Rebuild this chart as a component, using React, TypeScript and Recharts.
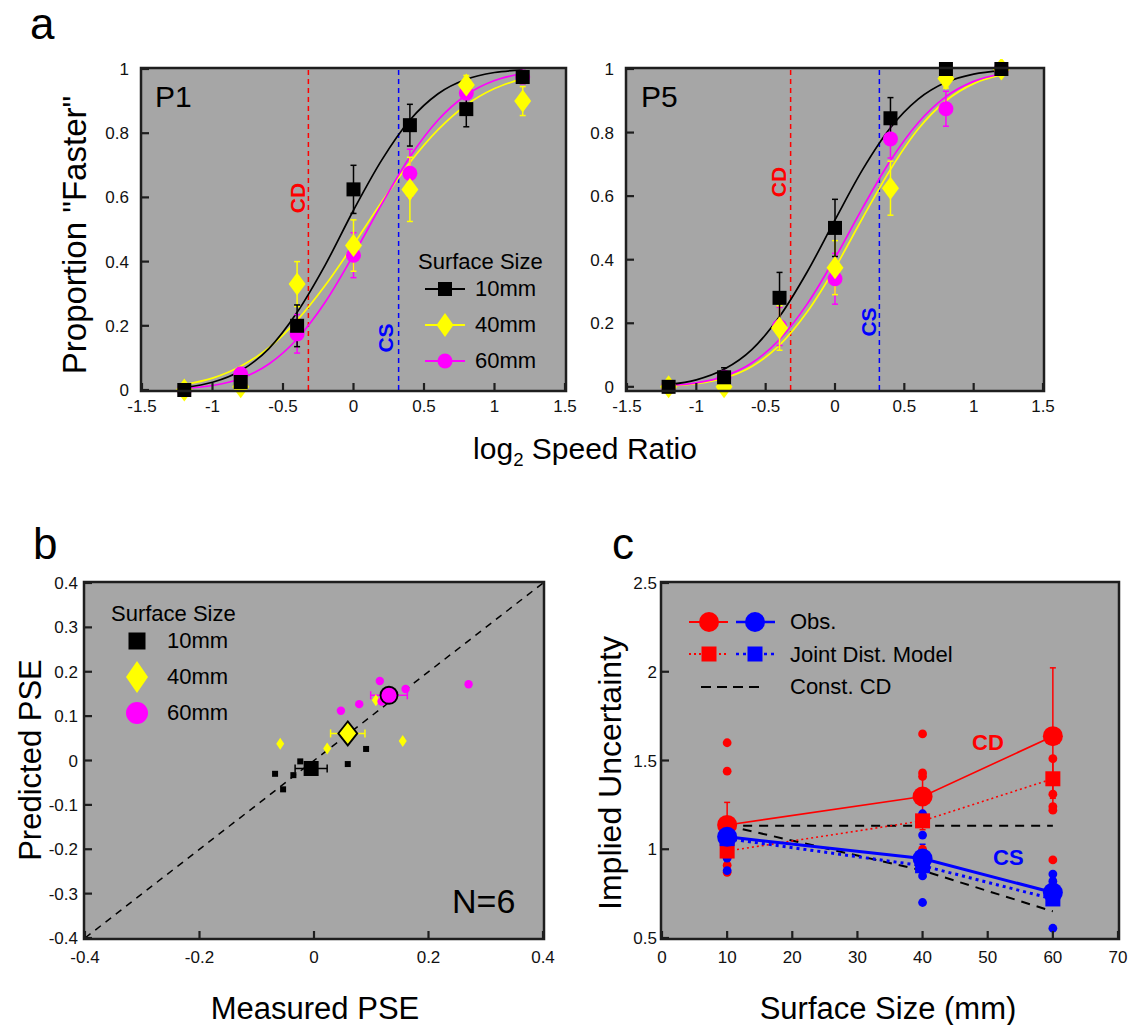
import React from 'react'
import {
  ComposedChart,
  XAxis,
  YAxis,
  Line,
  Scatter,
  ErrorBar,
  ReferenceLine,
} from 'recharts'

const FONT = '"Liberation Sans", Arial, Helvetica, sans-serif'
const BG = '#a6a6a6'
const INK = '#1e1e1e'
const RED = '#ff0000'
const BLUE = '#0000ff'
const YEL = '#ffff00'
const MAG = '#ff00ff'

// ---- panel a: psychometric functions ----
const speedRatios = [-1.2, -0.8, -0.4, 0, 0.4, 0.8, 1.2]
const fitX = [-1.2, -1.0, -0.8, -0.6, -0.4, -0.2, 0, 0.2, 0.4, 0.6, 0.8, 1.0, 1.2]
const cdShift = -0.32
const csShift = 0.32

const p1Obs10 = [0, 0.025, 0.2, 0.625, 0.825, 0.875, 0.975]
const p1Obs40 = [0, 0.01, 0.33, 0.45, 0.625, 0.95, 0.9]
const p1Obs60 = [0, 0.05, 0.175, 0.42, 0.675, 0.925, 0.975]
const p1Err10 = [0, 0.02, 0.065, 0.075, 0.065, 0.055, 0.02]
const p1Err40 = [0, 0.01, 0.07, 0.08, 0.1, 0.03, 0.045]
const p1Err60 = [0, 0.02, 0.06, 0.07, 0.075, 0.035, 0.02]
const p1Fit10 = [0.008, 0.024, 0.06, 0.129, 0.242, 0.39, 0.56, 0.716, 0.841, 0.923, 0.968, 0.989, 0.997]
const p1Fit40 = [0.017, 0.037, 0.074, 0.132, 0.217, 0.326, 0.453, 0.586, 0.709, 0.811, 0.888, 0.939, 0.97]
const p1Fit60 = [0.005, 0.014, 0.036, 0.081, 0.159, 0.274, 0.421, 0.579, 0.726, 0.841, 0.919, 0.964, 0.986]

const p5Obs10 = [0, 0.03, 0.28, 0.5, 0.845, 1, 1]
const p5Obs40 = [0, 0, 0.185, 0.375, 0.625, 0.97, 1]
const p5Obs60 = [0, 0.03, 0.19, 0.34, 0.78, 0.875, 1]
const p5Err10 = [0, 0.03, 0.08, 0.09, 0.065, 0, 0]
const p5Err40 = [0, 0.01, 0.07, 0.085, 0.085, 0.03, 0]
const p5Err60 = [0, 0.02, 0.06, 0.08, 0.06, 0.055, 0]
const p5Fit10 = [0.007, 0.022, 0.055, 0.117, 0.221, 0.362, 0.525, 0.684, 0.815, 0.905, 0.958, 0.984, 0.995]
const p5Fit40 = [0.003, 0.01, 0.027, 0.064, 0.131, 0.236, 0.374, 0.532, 0.684, 0.811, 0.9, 0.954, 0.981]
const p5Fit60 = [0.004, 0.0125, 0.033, 0.075, 0.149, 0.261, 0.405, 0.564, 0.712, 0.831, 0.913, 0.961, 0.985]

// ---- panel b: measured vs predicted PSE ----
const pseMeas10 = [-0.068, -0.054, -0.036, -0.024, 0.059, 0.091]
const psePred10 = [-0.03, -0.065, -0.033, -0.002, -0.008, 0.026]
const pseMeas40 = [-0.059, 0.023, 0.066, 0.055, 0.108, 0.155]
const psePred40 = [0.038, 0.027, 0.057, 0.065, 0.136, 0.044]
const pseMeas60 = [0.047, 0.079, 0.115, 0.118, 0.16, 0.27]
const psePred60 = [0.112, 0.127, 0.179, 0.133, 0.161, 0.172]
const pseMeanMeas = [-0.005, 0.059, 0.131]
const pseMeanPred = [-0.018, 0.061, 0.147]
const pseMeanErr = [0.028, 0.03, 0.032]

// ---- panel c: implied uncertainty ----
const sizes = [10, 40, 60]
const cdObs = [1.137, 1.297, 1.637]
const cdObsErr = [0.127, 0.12, 0.385]
const cdModel = [0.99, 1.16, 1.397]
const cdModelErr = [0.03, 0.05, 0.11]
const csObs = [1.07, 0.948, 0.756]
const csObsErr = [0.09, 0.08, 0.06]
const csModel = [1.06, 0.907, 0.72]
const constCdFlat = [1.133, 1.133, 1.133]
const constCdCs = [1.133, 0.88, 0.65]
const cdSubj10 = [1.6, 1.44, 1.14, 1.0, 0.91, 0.87]
const cdSubj40 = [1.65, 1.43, 1.41, 1.3, 1.0, 0.97]
const cdSubj60 = [1.62, 1.51, 1.31, 1.24, 1.22, 0.94]
const csSubj10 = [1.16, 1.1, 1.05, 1.0, 0.95, 0.88]
const csSubj40 = [1.2, 1.08, 0.95, 0.9, 0.85, 0.7]
const csSubj60 = [0.86, 0.82, 0.78, 0.74, 0.72, 0.555]

const pts = (xs: number[], ys: number[], es?: number[]) =>
  xs.map((x, i) => ({ x, y: ys[i], e: es ? es[i] : 0 }))
const column = (x: number, ys: number[]) => ys.map(y => ({ x, y }))

type P = { cx?: number; cy?: number }
const square = (s: number, fill: string, stroke = 'none', sw = 0) => (p: P) => (
  <rect x={(p.cx ?? 0) - s / 2} y={(p.cy ?? 0) - s / 2} width={s} height={s} fill={fill} stroke={stroke} strokeWidth={sw} />
)
const diamond = (w: number, h: number, fill: string, stroke = 'none', sw = 0) => (p: P) => {
  const cx = p.cx ?? 0
  const cy = p.cy ?? 0
  return (
    <polygon
      points={`${cx},${cy - h / 2} ${cx + w / 2},${cy} ${cx},${cy + h / 2} ${cx - w / 2},${cy}`}
      fill={fill}
      stroke={stroke}
      strokeWidth={sw}
    />
  )
}
const circle = (r: number, fill: string, stroke = 'none', sw = 0) => (p: P) => (
  <circle cx={p.cx ?? 0} cy={p.cy ?? 0} r={r} fill={fill} stroke={stroke} strokeWidth={sw} />
)

// MATLAB-ish inward ticks: each tick draws its own short line plus (optionally) its label
type TickP = { x?: number; y?: number; payload?: { value: number } }
const TL = 7
const TW = 2.2
function boxTick(side: 'bottom' | 'left' | 'top' | 'right', gap = 0) {
  return (p: TickP) => {
    const x = p.x ?? 0
    const y = p.y ?? 0
    const v = p.payload?.value
    const txt = { fontSize: 17, fill: '#111', fontFamily: FONT }
    if (side === 'bottom') {
      return (
        <g>
          <line x1={x} x2={x} y1={y - gap} y2={y - gap - TL} stroke={INK} strokeWidth={TW} />
          <text x={x} y={y} dy="0.71em" textAnchor="middle" {...txt}>{v}</text>
        </g>
      )
    }
    if (side === 'left') {
      return (
        <g>
          <line x1={x + gap} x2={x + gap + TL} y1={y} y2={y} stroke={INK} strokeWidth={TW} />
          <text x={x} y={y} dy="0.355em" textAnchor="end" {...txt}>{v}</text>
        </g>
      )
    }
    if (side === 'top') return <line x1={x} x2={x} y1={y} y2={y + TL} stroke={INK} strokeWidth={TW} />
    return <line x1={x} x2={x - TL} y1={y} y2={y} stroke={INK} strokeWidth={TW} />
  }
}

function frame(
  xd: number[], xt: number[], yd: number[], yt: number[],
  xGap: number, yGap: number,
) {
  return [
    <XAxis key="xb" type="number" dataKey="x" domain={xd} ticks={xt} interval={0} height={40}
      tickSize={0} tickMargin={xGap} tick={boxTick('bottom', xGap)} axisLine={false} tickLine={false} />,
    <XAxis key="xt" xAxisId="top" orientation="top" type="number" dataKey="x" domain={xd} ticks={xt}
      interval={0} height={0} tickSize={0} tickMargin={0} tick={boxTick('top')} axisLine={false} tickLine={false} />,
    <YAxis key="yl" type="number" dataKey="y" domain={yd} ticks={yt} interval={0} width={50}
      tickSize={0} tickMargin={yGap} tick={boxTick('left', yGap)} axisLine={false} tickLine={false} />,
    <YAxis key="yr" yAxisId="right" orientation="right" type="number" domain={yd} ticks={yt}
      interval={0} width={0} tickSize={0} tickMargin={0} tick={boxTick('right')} axisLine={false} tickLine={false} />,
  ]
}

const M = { top: 10, right: 20, bottom: 10, left: 10 }

type Box = { x: number; y: number; w: number; h: number }
const boxes: Box[] = [
  { x: 142, y: 69, w: 423, h: 321 },
  { x: 627, y: 69, w: 416, h: 321 },
  { x: 85, y: 583, w: 458, h: 355 },
  { x: 662, y: 583, w: 456, h: 355 },
]

function Psycho({ left, width, fits, obs, errs }: {
  left: number; width: number; fits: number[][]; obs: number[][]; errs: number[][]
}) {
  const [f10, f40, f60] = fits
  const [o10, o40, o60] = obs
  const [e10, e40, e60] = errs
  return (
    <div style={{ position: 'absolute', left, top: 59 }}>
      <ComposedChart width={width} height={381} margin={M}>
        {frame([-1.5, 1.5], [-1.5, -1, -0.5, 0, 0.5, 1, 1.5], [0, 1], [0, 0.2, 0.4, 0.6, 0.8, 1], 10, 13)}
        <ReferenceLine x={cdShift} stroke={RED} strokeWidth={1.5} strokeDasharray="5 4" />
        <ReferenceLine x={csShift} stroke={BLUE} strokeWidth={1.5} strokeDasharray="5 4" />
        <Line data={pts(fitX, f40)} dataKey="y" type="monotone" dot={false} stroke={YEL} strokeWidth={1.7} isAnimationActive={false} />
        <Line data={pts(fitX, f60)} dataKey="y" type="monotone" dot={false} stroke={MAG} strokeWidth={1.7} isAnimationActive={false} />
        <Line data={pts(fitX, f10)} dataKey="y" type="monotone" dot={false} stroke="#000" strokeWidth={1.7} isAnimationActive={false} />
        <Scatter data={pts(speedRatios, o60, e60)} dataKey="y" shape={circle(7.5, MAG)} isAnimationActive={false}>
          <ErrorBar dataKey="e" direction="y" width={3} stroke={MAG} strokeWidth={1.5} />
        </Scatter>
        <Scatter data={pts(speedRatios, o40, e40)} dataKey="y" shape={diamond(17, 23, YEL)} isAnimationActive={false}>
          <ErrorBar dataKey="e" direction="y" width={3} stroke={YEL} strokeWidth={1.5} />
        </Scatter>
        <Scatter data={pts(speedRatios, o10, e10)} dataKey="y" shape={square(14, '#000')} isAnimationActive={false}>
          <ErrorBar dataKey="e" direction="y" width={3} stroke="#000" strokeWidth={1.5} />
        </Scatter>
      </ComposedChart>
    </div>
  )
}

const abs = (x: number, y: number, extra: React.CSSProperties = {}): React.CSSProperties => ({
  position: 'absolute', left: x, top: y, fontFamily: FONT, color: '#000', whiteSpace: 'nowrap', lineHeight: 1, ...extra,
})
const centered = (x: number, y: number, size: number, rot = 0, extra: React.CSSProperties = {}) =>
  abs(x, y, { fontSize: size, transform: `translate(-50%, -50%)${rot ? ` rotate(${rot}deg)` : ''}`, ...extra })
const leftMid = (x: number, y: number, size: number, extra: React.CSSProperties = {}) =>
  abs(x, y, { fontSize: size, transform: 'translateY(-50%)', ...extra })

export default function App() {
  const subjRed = [...column(10, cdSubj10), ...column(40, cdSubj40), ...column(60, cdSubj60)]
  const subjBlue = [...column(10, csSubj10), ...column(40, csSubj40), ...column(60, csSubj60)]

  return (
    <div style={{ position: 'absolute', left: 0, top: 0, width: 1141, height: 1025, background: '#fff', overflow: 'hidden' }}>
      {/* grey plot backgrounds, behind the transparent chart svgs */}
      {boxes.map((b, i) => (
        <div key={i} style={{ position: 'absolute', left: b.x, top: b.y, width: b.w, height: b.h, background: BG }} />
      ))}

      {/* panel a */}
      <Psycho left={82} width={503} fits={[p1Fit10, p1Fit40, p1Fit60]} obs={[p1Obs10, p1Obs40, p1Obs60]} errs={[p1Err10, p1Err40, p1Err60]} />
      <Psycho left={567} width={496} fits={[p5Fit10, p5Fit40, p5Fit60]} obs={[p5Obs10, p5Obs40, p5Obs60]} errs={[p5Err10, p5Err40, p5Err60]} />

      {/* panel b */}
      <div style={{ position: 'absolute', left: 25, top: 573 }}>
        <ComposedChart width={538} height={415} margin={M}>
          {frame([-0.4, 0.4], [-0.4, -0.2, 0, 0.2, 0.4], [-0.4, 0.4],
            [-0.4, -0.3, -0.2, -0.1, 0, 0.1, 0.2, 0.3, 0.4], 13, 7)}
          <ReferenceLine segment={[{ x: -0.4, y: -0.4 }, { x: 0.4, y: 0.4 }]} stroke="#000" strokeWidth={1.5} strokeDasharray="7 6" />
          <Scatter data={pts(pseMeas10, psePred10)} dataKey="y" shape={square(6, '#000')} isAnimationActive={false} />
          <Scatter data={pts(pseMeas40, psePred40)} dataKey="y" shape={diamond(8, 12, YEL)} isAnimationActive={false} />
          <Scatter data={pts(pseMeas60, psePred60)} dataKey="y" shape={circle(4.2, MAG)} isAnimationActive={false} />
          <Scatter data={pts(pseMeanMeas.slice(0, 1), pseMeanPred.slice(0, 1), pseMeanErr.slice(0, 1))} dataKey="y" shape={square(15, '#000')} isAnimationActive={false}>
            <ErrorBar dataKey="e" direction="x" width={4} stroke="#000" strokeWidth={1.5} />
          </Scatter>
          <Scatter data={pts(pseMeanMeas.slice(1, 2), pseMeanPred.slice(1, 2), pseMeanErr.slice(1, 2))} dataKey="y" shape={diamond(19, 24, YEL, '#000', 1.8)} isAnimationActive={false}>
            <ErrorBar dataKey="e" direction="x" width={4} stroke={YEL} strokeWidth={1.5} />
          </Scatter>
          <Scatter data={pts(pseMeanMeas.slice(2), pseMeanPred.slice(2), pseMeanErr.slice(2))} dataKey="y" shape={circle(8.5, MAG, '#000', 1.8)} isAnimationActive={false}>
            <ErrorBar dataKey="e" direction="x" width={4} stroke={MAG} strokeWidth={1.5} />
          </Scatter>
        </ComposedChart>
      </div>

      {/* panel c */}
      <div style={{ position: 'absolute', left: 602, top: 573 }}>
        <ComposedChart width={536} height={415} margin={M}>
          {frame([0, 70], [0, 10, 20, 30, 40, 50, 60, 70], [0.5, 2.5], [0.5, 1, 1.5, 2, 2.5], 13, 5)}
          <Scatter data={subjRed} dataKey="y" shape={circle(4.4, RED)} isAnimationActive={false} />
          <Scatter data={subjBlue} dataKey="y" shape={circle(4.4, BLUE)} isAnimationActive={false} />
          <Line data={pts(sizes, constCdFlat)} dataKey="y" stroke="#000" strokeWidth={2} strokeDasharray="9 7" dot={false} isAnimationActive={false} />
          <Line data={pts(sizes, constCdCs)} dataKey="y" stroke="#000" strokeWidth={2} strokeDasharray="9 7" dot={false} isAnimationActive={false} />
          <Line data={pts(sizes, cdModel)} dataKey="y" stroke={RED} strokeWidth={1.6} strokeDasharray="2 3" dot={false} isAnimationActive={false} />
          <Line data={pts(sizes, csModel)} dataKey="y" stroke={BLUE} strokeWidth={3} strokeDasharray="3 4" dot={false} isAnimationActive={false} />
          <Line data={pts(sizes, cdObs)} dataKey="y" stroke={RED} strokeWidth={1.6} dot={false} isAnimationActive={false} />
          <Line data={pts(sizes, csObs)} dataKey="y" stroke={BLUE} strokeWidth={3} dot={false} isAnimationActive={false} />
          <Scatter data={pts(sizes, cdModel, cdModelErr)} dataKey="y" shape={square(15, RED)} isAnimationActive={false}>
            <ErrorBar dataKey="e" direction="y" width={3} stroke={RED} strokeWidth={1.5} />
          </Scatter>
          <Scatter data={pts(sizes, csModel)} dataKey="y" shape={square(15, BLUE)} isAnimationActive={false} />
          <Scatter data={pts(sizes, cdObs, cdObsErr)} dataKey="y" shape={circle(10, RED)} isAnimationActive={false}>
            <ErrorBar dataKey="e" direction="y" width={3} stroke={RED} strokeWidth={1.5} />
          </Scatter>
          <Scatter data={pts(sizes, csObs, csObsErr)} dataKey="y" shape={circle(10, BLUE)} isAnimationActive={false}>
            <ErrorBar dataKey="e" direction="y" width={3} stroke={BLUE} strokeWidth={1.5} />
          </Scatter>
        </ComposedChart>
      </div>

      {/* axes boxes drawn on top */}
      <svg style={{ position: 'absolute', left: 0, top: 0, pointerEvents: 'none' }} width={1141} height={1025}>
        {boxes.map((b, i) => (
          <rect key={i} x={b.x - 1} y={b.y - 1} width={b.w + 2} height={b.h + 2} fill="none" stroke={INK} strokeWidth={2.5} />
        ))}
      </svg>

      {/* panel letters */}
      <div style={abs(30, 2, { fontSize: 44 })}>a</div>
      <div style={abs(33, 522, { fontSize: 44 })}>b</div>
      <div style={abs(612, 522, { fontSize: 44 })}>c</div>

      {/* panel a labels */}
      <div style={leftMid(155, 97, 30)}>P1</div>
      <div style={leftMid(641, 97, 30)}>P5</div>
      <div style={centered(297, 198, 21, -90, { color: RED, fontWeight: 'bold' })}>CD</div>
      <div style={centered(385, 338, 21, -90, { color: BLUE, fontWeight: 'bold' })}>CS</div>
      <div style={centered(778, 182, 21, -90, { color: RED, fontWeight: 'bold' })}>CD</div>
      <div style={centered(868, 322, 21, -90, { color: BLUE, fontWeight: 'bold' })}>CS</div>
      <div style={centered(74, 235, 33, -90)}>Proportion "Faster"</div>
      <div style={centered(585, 452, 30)}>
        log<sub style={{ fontSize: '0.62em', verticalAlign: '-0.35em' }}>2</sub> Speed Ratio
      </div>

      {/* P1 legend */}
      <div style={leftMid(418, 262, 22)}>Surface Size</div>
      <svg style={{ position: 'absolute', left: 420, top: 275 }} width={50} height={100}>
        <line x1={5} x2={45} y1={14} y2={14} stroke="#000" strokeWidth={2} />
        <rect x={18} y={7} width={14} height={14} fill="#000" />
        <line x1={5} x2={45} y1={50} y2={50} stroke={YEL} strokeWidth={2} />
        <polygon points="25,38 33.5,50 25,62 16.5,50" fill={YEL} />
        <line x1={5} x2={45} y1={86} y2={86} stroke={MAG} strokeWidth={2} />
        <circle cx={25} cy={86} r={7.5} fill={MAG} />
      </svg>
      <div style={leftMid(475, 289, 22)}>10mm</div>
      <div style={leftMid(475, 325, 22)}>40mm</div>
      <div style={leftMid(475, 361, 22)}>60mm</div>

      {/* panel b labels */}
      <div style={centered(30, 760, 31, -90)}>Predicted PSE</div>
      <div style={centered(315, 1008, 31)}>Measured PSE</div>
      <div style={leftMid(111, 614, 22)}>Surface Size</div>
      <svg style={{ position: 'absolute', left: 117, top: 620 }} width={40} height={110}>
        <rect x={11.5} y={12.5} width={17} height={17} fill="#000" />
        <polygon points="20,41 31,57 20,73 9,57" fill={YEL} />
        <circle cx={20} cy={93} r={11} fill={MAG} />
      </svg>
      <div style={leftMid(167, 641, 22)}>10mm</div>
      <div style={leftMid(167, 677, 22)}>40mm</div>
      <div style={leftMid(167, 713, 22)}>60mm</div>
      <div style={leftMid(452, 901, 34)}>N=6</div>

      {/* panel c labels */}
      <div style={centered(610, 773, 32, -90)}>Implied Uncertainty</div>
      <div style={centered(888, 1008, 31)}>Surface Size (mm)</div>
      <div style={leftMid(972, 743, 22, { color: RED, fontWeight: 'bold' })}>CD</div>
      <div style={leftMid(993, 858, 22, { color: BLUE, fontWeight: 'bold' })}>CS</div>
      <svg style={{ position: 'absolute', left: 685, top: 600 }} width={100} height={100}>
        <line x1={4} x2={43} y1={22} y2={22} stroke={RED} strokeWidth={2} />
        <circle cx={24} cy={22} r={10} fill={RED} />
        <line x1={51} x2={90} y1={22} y2={22} stroke={BLUE} strokeWidth={2.5} />
        <circle cx={70} cy={22} r={10} fill={BLUE} />
        <line x1={4} x2={43} y1={54} y2={54} stroke={RED} strokeWidth={2} strokeDasharray="2 3" />
        <rect x={16.5} y={46.5} width={15} height={15} fill={RED} />
        <line x1={51} x2={90} y1={54} y2={54} stroke={BLUE} strokeWidth={2.5} strokeDasharray="3 4" />
        <rect x={62.5} y={46.5} width={15} height={15} fill={BLUE} />
        <line x1={16} x2={75} y1={87} y2={87} stroke="#000" strokeWidth={2} strokeDasharray="10 6" />
      </svg>
      <div style={leftMid(790, 622, 22)}>Obs.</div>
      <div style={leftMid(790, 655, 22)}>Joint Dist. Model</div>
      <div style={leftMid(790, 687, 22)}>Const. CD</div>
    </div>
  )
}
